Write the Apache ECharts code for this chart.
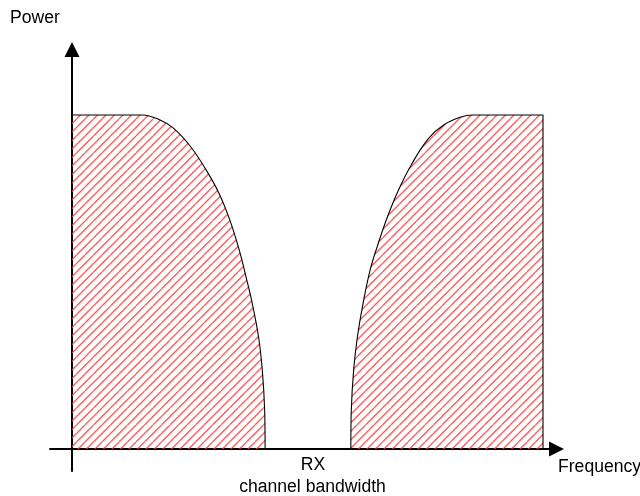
<!DOCTYPE html>
<html>
<head>
<meta charset="utf-8">
<script src="https://cdn.jsdelivr.net/npm/echarts@6/dist/echarts.min.js"></script>
<style>
html,body{margin:0;padding:0;background:#fff;}
#chart{width:640px;height:496px;}
</style>
</head>
<body>
<div id="chart"></div>
<script>
// Frequency (arbitrary units, 0 = power axis, 100 = right edge of band) and normalized power
const leftFreq  = [0, 14.9, 18.7, 21.6, 25.2, 28.5, 31.2, 33.5, 35.5, 37.0, 38.25, 39.6, 40.4, 40.9, 41.0];
const leftPower = [1, 1, 0.985, 0.960, 0.905, 0.835, 0.766, 0.686, 0.596, 0.512, 0.437, 0.336, 0.237, 0.117, 0];
const rightFreq  = [59.2, 59.3, 59.8, 60.6, 61.8, 63.3, 64.8, 67.0, 69.3, 72.2, 75.7, 78.9, 82.4, 85.1, 100, 100];
const rightPower = [0, 0.117, 0.237, 0.336, 0.436, 0.536, 0.606, 0.696, 0.775, 0.855, 0.930, 0.970, 0.993, 1, 1, 0];
const axisNames = {x: 'Frequency', y: 'Power'};
const bandLabel = ['RX', 'channel bandwidth'];

function zip(a, b) { return a.map((v, i) => [v, b[i]]); }

// hatch pattern
const pc = document.createElement('canvas');
pc.width = 17; pc.height = 17;
const g = pc.getContext('2d');
g.strokeStyle = 'rgba(255,60,60,0.85)';
g.lineWidth = 1.3;
[-17, -8.5, 0, 8.5, 17].forEach(k => {
  g.beginPath(); g.moveTo(k, 17); g.lineTo(k + 17, 0); g.stroke();
});
const hatch = {image: pc, repeat: 'repeat'};

const font = '17.6px "Liberation Sans", Arial, sans-serif';
const chart = echarts.init(document.getElementById('chart'), null, {renderer: 'canvas'});
const axisCommon = {
  type: 'value',
  axisTick: {show: false},
  axisLabel: {show: false},
  splitLine: {show: false},
  axisLine: {show: true, onZero: true, symbol: ['none', 'triangle'], symbolSize: [15, 15],
             lineStyle: {color: '#000', width: 2}}
};
chart.setOption({
  animation: false,
  backgroundColor: '#fff',
  grid: {left: 50, right: 83.5, top: 49.5, bottom: 25, containLabel: false},
  xAxis: Object.assign({}, axisCommon, {min: -4.671, max: 102.866}),
  yAxis: Object.assign({}, axisCommon, {min: -0.0659, max: 1.1961}),
  series: [
    {type: 'line', data: zip(leftFreq, leftPower), symbol: 'none', smooth: 0.4, smoothMonotone: 'none',
     lineStyle: {color: '#000', width: 1.1}, areaStyle: {color: hatch, opacity: 1}, z: 1},
    {type: 'line', data: zip(rightFreq, rightPower), symbol: 'none', smooth: 0.4, smoothMonotone: 'none',
     lineStyle: {color: '#000', width: 1.1}, areaStyle: {color: hatch, opacity: 1}, z: 1}
  ],
  graphic: [
    {type: 'text', x: 10, y: 18.5, style: {text: axisNames.y, font: font, fill: '#000', align: 'left', verticalAlign: 'middle'}},
    {type: 'text', x: 558, y: 467, style: {text: axisNames.x, font: font, fill: '#000', align: 'left', verticalAlign: 'middle'}},
    {type: 'text', x: 313, y: 465, style: {text: bandLabel[0], font: font, fill: '#000', align: 'center', verticalAlign: 'middle'}},
    {type: 'text', x: 312.5, y: 487, style: {text: bandLabel[1], font: font, fill: '#000', align: 'center', verticalAlign: 'middle'}}
  ]
});
</script>
</body>
</html>
